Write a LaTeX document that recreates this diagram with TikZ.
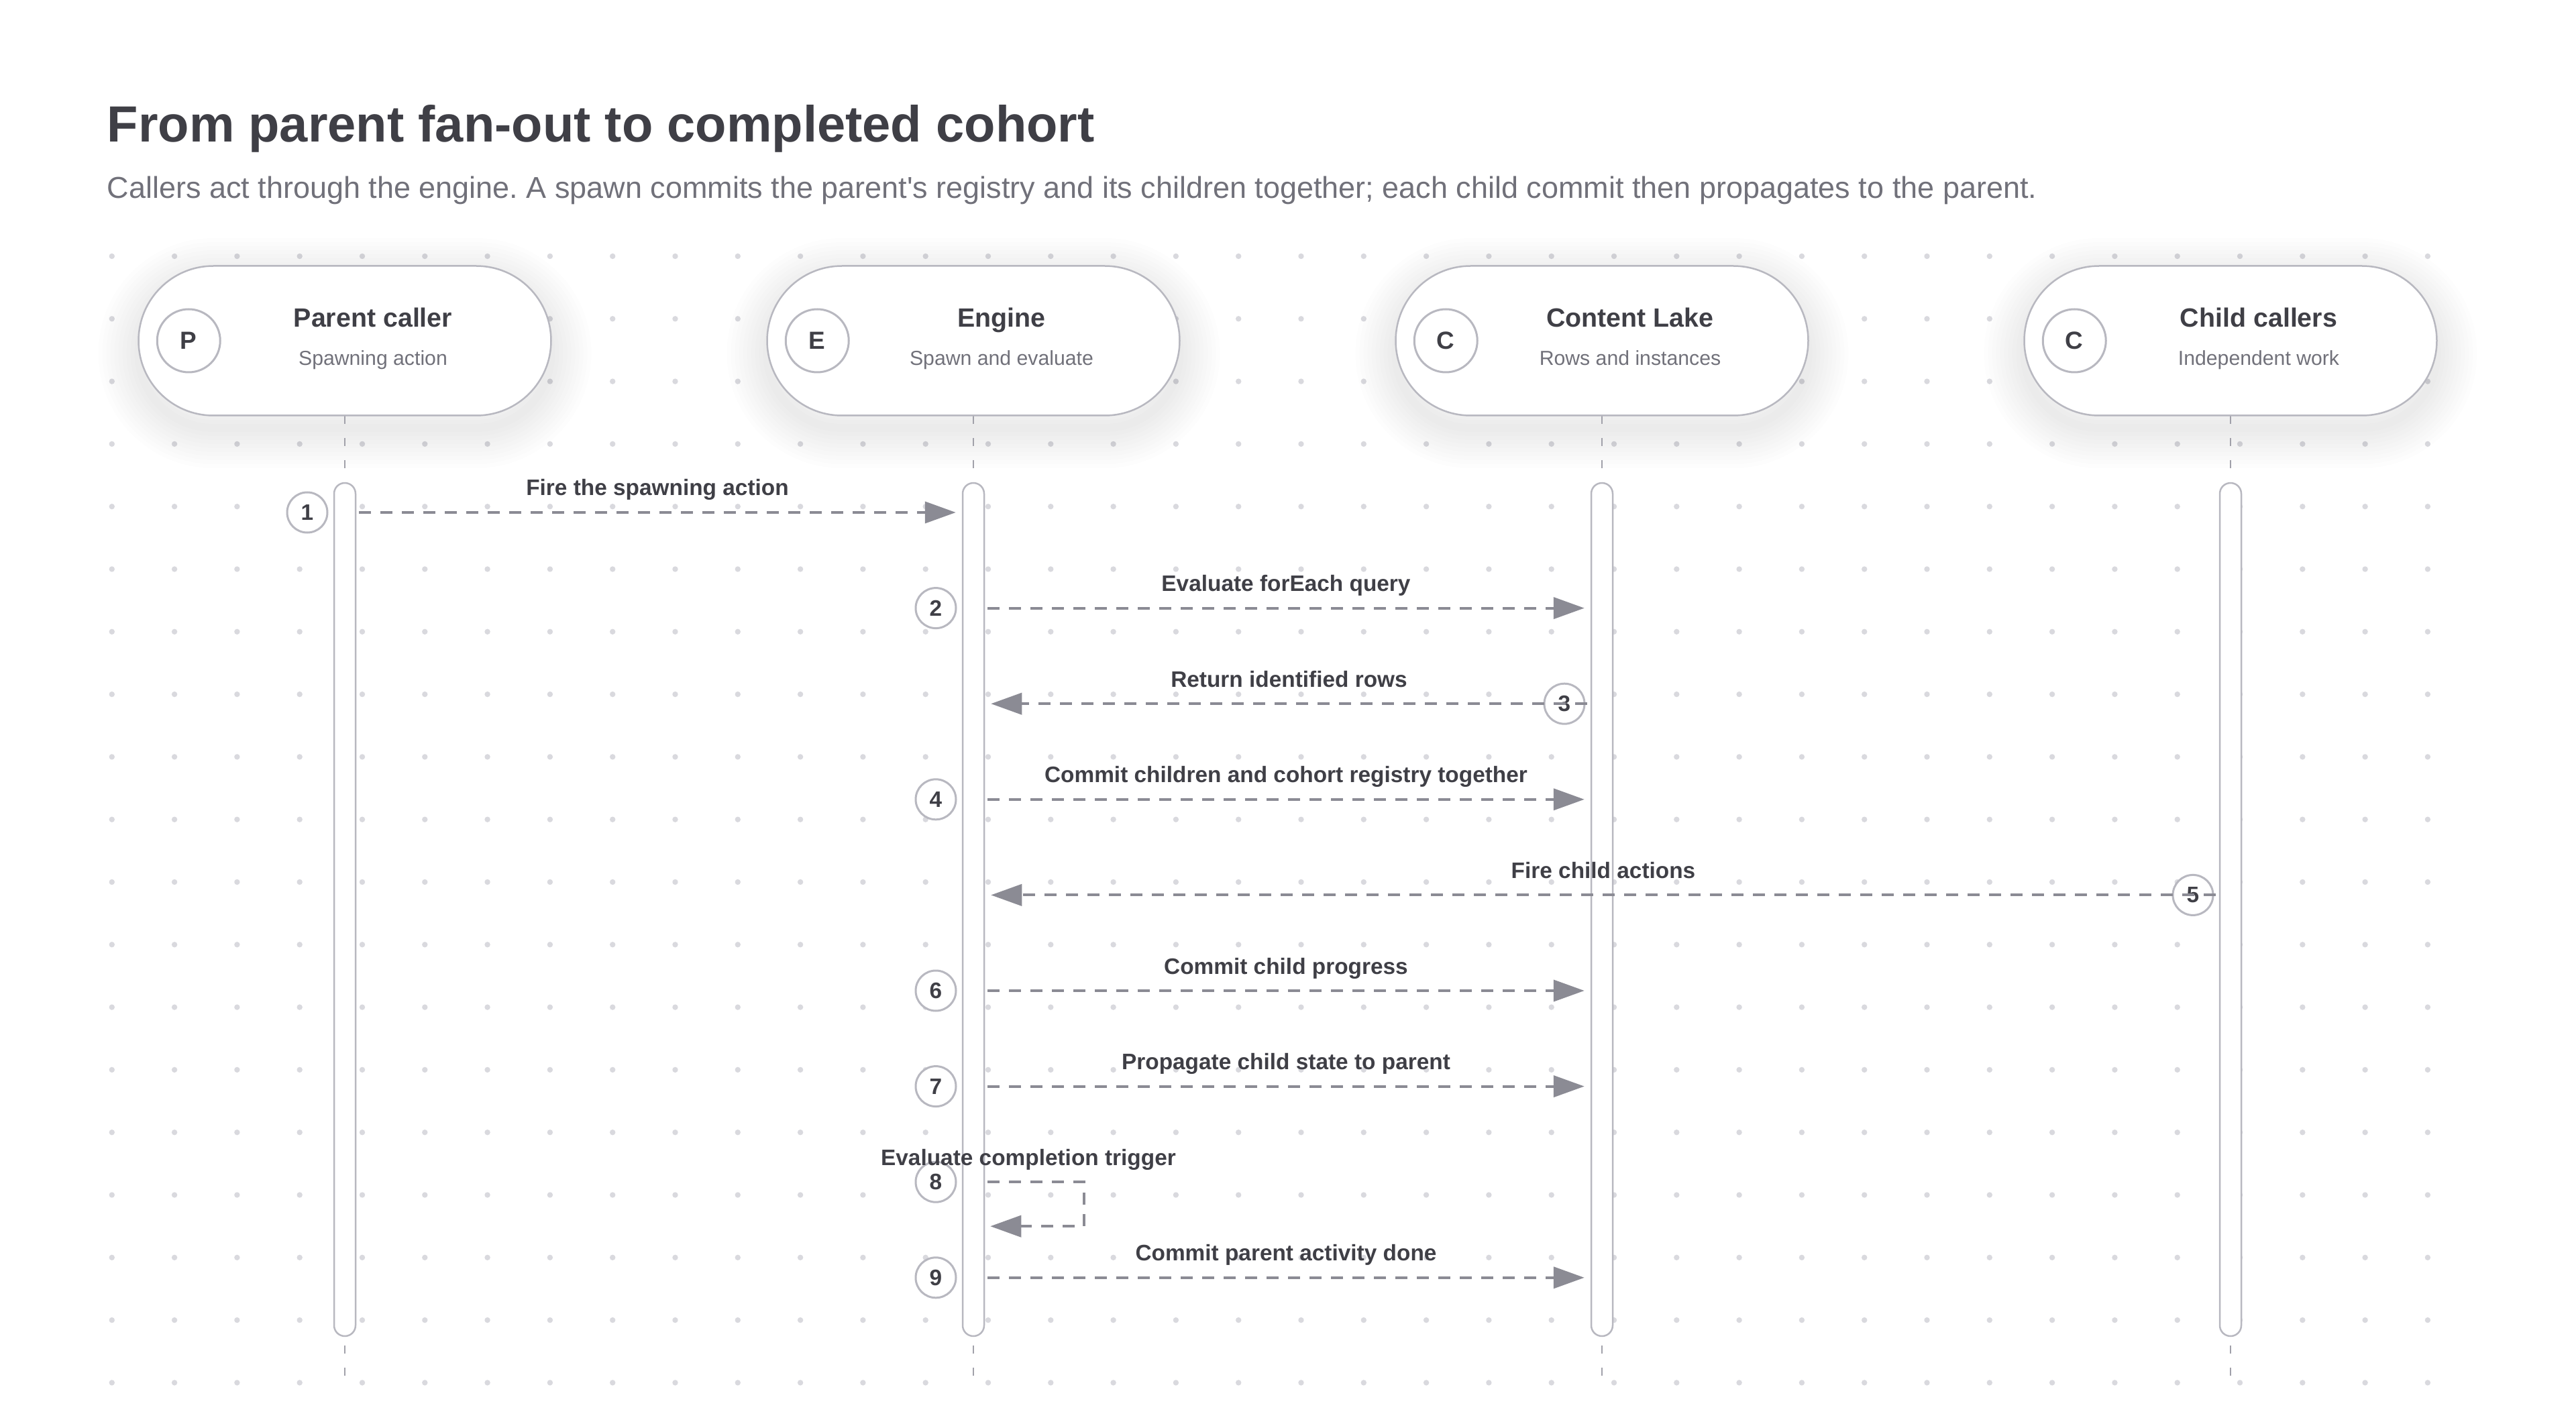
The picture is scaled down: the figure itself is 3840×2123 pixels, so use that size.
\documentclass[tikz,border=0pt]{standalone}
\usepackage{fontspec}
\setmainfont{Liberation Sans}[Ligatures=TeXOff]
\usetikzlibrary{arrows.meta,positioning,calc}

\definecolor{ink}{HTML}{3F3F46}
\definecolor{muted}{HTML}{71717A}
\definecolor{rim}{HTML}{B8B8C0}
\definecolor{wire}{HTML}{8B8B94}
\definecolor{dotc}{HTML}{D9D9DE}
\definecolor{life}{HTML}{A1A1AA}
\frenchspacing

\begin{document}
\begin{tikzpicture}[x=0.1mm, y=-0.1mm,
        lane/.style={rectangle, draw=rim, line width=0.25mm, fill=white, rounded corners=11.15mm, minimum width=61.5mm, minimum height=22.3mm},
        icon/.style={circle, draw=rim, line width=0.3mm, fill=white, minimum size=9.4mm, inner sep=0pt, text=ink, font=\bfseries\fontsize{10.5}{12}\selectfont},
        lanetitle/.style={anchor=base, inner sep=0pt, text=ink, font=\bfseries\fontsize{11.2}{13}\selectfont},
        lanesub/.style={anchor=base, inner sep=0pt, text=muted, font=\fontsize{8.6}{10}\selectfont},
        bar/.style={rectangle, draw=rim, line width=0.25mm, fill=white, rounded corners=1.6mm, minimum width=3.2mm, minimum height=127.2mm, inner sep=0pt},
        lifeline/.style={draw=life, line width=0.2mm, dash pattern=on 1.2mm off 2.1mm},
        badge/.style={circle, draw=rim, line width=0.3mm, fill=white, minimum size=6mm, inner sep=0pt, text=ink, font=\bfseries\fontsize{9.5}{11}\selectfont},
        msg/.style={draw=wire, line width=0.4mm, dash pattern=on 1.8mm off 1.4mm, -{Triangle[length=4.6mm, width=3.2mm]}},
        msgtext/.style={anchor=base, inner sep=0pt, yshift=2.5mm, text=ink, font=\bfseries\fontsize{9.5}{11}\selectfont}]

    \useasboundingbox[fill=white] (0,0) rectangle (3840,2123);

    % dot grid
    \foreach \i in {0,...,37}
        \foreach \j in {4,...,22}
            \fill[dotc] (166.8+93.3*\i, 8.8+93.3*\j) circle[radius=0.42mm];

    % heading
    \node[anchor=base west, inner sep=0pt, text=ink, font=\bfseries\fontsize{21.6}{26}\selectfont] (title) at (159,212) {From parent fan-out to completed cohort};
    \node[anchor=base west, inner sep=0pt, text=muted, font=\fontsize{12.8}{15}\selectfont] (subtitle) at (159,296) {Callers act through the engine. A spawn commits the parent's registry and its children together; each child commit then propagates to the parent.};

    % participants
    \foreach \n/\x/\l/\t/\s in {pc/514/P/Parent caller/Spawning action,
            en/1451/E/Engine/Spawn and evaluate,
            cl/2388/C/Content Lake/Rows and instances,
            ch/3325/C/Child callers/Independent work}{
        \foreach \k in {1,...,10}
            \draw[black, draw opacity=0.006, line width=\k*1.2mm, rounded corners=11.15mm]
                (\x-307.5,415) rectangle (\x+307.5,638);
        \draw[lifeline] (\x,620) -- (\x,2052);
        \node[lane] (\n) at (\x,508) {};
        \node[icon] (\n-i) at ([xshift=7.6mm]\n.west) {\l};
        \node[lanetitle] (\n-t) at ([xshift=4.2mm, yshift=2mm]\n.center) {\t};
        \node[lanesub] (\n-s) at ([xshift=4.2mm, yshift=-3.7mm]\n.center) {\s};
        \node[bar] (\n-bar) at (\x,1356) {};
    }

    % steps
    \foreach \i in {1,...,9}
        \coordinate (s\i) at (0, 764+142.6*\i-142.6);

    \node[badge] (b1) at ($(pc-bar.center |- s1)+(-56,0)$) {1};
    \node[badge] (b2) at ($(en-bar.center |- s2)+(-56,0)$) {2};
    \node[badge] (b3) at ($(cl-bar.center |- s3)+(-56,0)$) {3};
    \node[badge] (b4) at ($(en-bar.center |- s4)+(-56,0)$) {4};
    \node[badge] (b5) at ($(ch-bar.center |- s5)+(-56,0)$) {5};
    \node[badge] (b6) at ($(en-bar.center |- s6)+(-56,0)$) {6};
    \node[badge] (b7) at ($(en-bar.center |- s7)+(-56,0)$) {7};
    \node[badge] (b8) at ($(en-bar.center |- s8)+(-56,0)$) {8};
    \node[badge] (b9) at ($(en-bar.center |- s9)+(-56,0)$) {9};

    % messages
    \draw[msg] ($(pc-bar.east |- s1)+(4,0)$) -- node[msgtext] {Fire the spawning action} ($(en-bar.west |- s1)+(-9,0)$);
    \draw[msg] ($(en-bar.east |- s2)+(4,0)$) -- node[msgtext] {Evaluate forEach query} ($(cl-bar.west |- s2)+(-9,0)$);
    \draw[msg] ($(cl-bar.west |- s3)+(-5,0)$) -- node[msgtext] {Return identified rows} ($(en-bar.east |- s3)+(9,0)$);
    \draw[msg] ($(en-bar.east |- s4)+(4,0)$) -- node[msgtext] {Commit children and cohort registry together} ($(cl-bar.west |- s4)+(-9,0)$);
    \draw[msg] ($(ch-bar.west |- s5)+(-5,0)$) -- node[msgtext] {Fire child actions} ($(en-bar.east |- s5)+(9,0)$);
    \draw[msg] ($(en-bar.east |- s6)+(4,0)$) -- node[msgtext] {Commit child progress} ($(cl-bar.west |- s6)+(-9,0)$);
    \draw[msg] ($(en-bar.east |- s7)+(4,0)$) -- node[msgtext] {Propagate child state to parent} ($(cl-bar.west |- s7)+(-9,0)$);
    \draw[msg] ($(en-bar.east |- s8)+(4,0)$) -- ++(144,0) -- ++(0,66) -- ($(en-bar.east |- s8)+(8,66)$);
    \node[msgtext] (l8) at ($(en-bar.center |- s8)+(82,0)$) {Evaluate completion trigger};
    \draw[msg] ($(en-bar.east |- s9)+(4,0)$) -- node[msgtext] {Commit parent activity done} ($(cl-bar.west |- s9)+(-9,0)$);
\end{tikzpicture}
\end{document}
